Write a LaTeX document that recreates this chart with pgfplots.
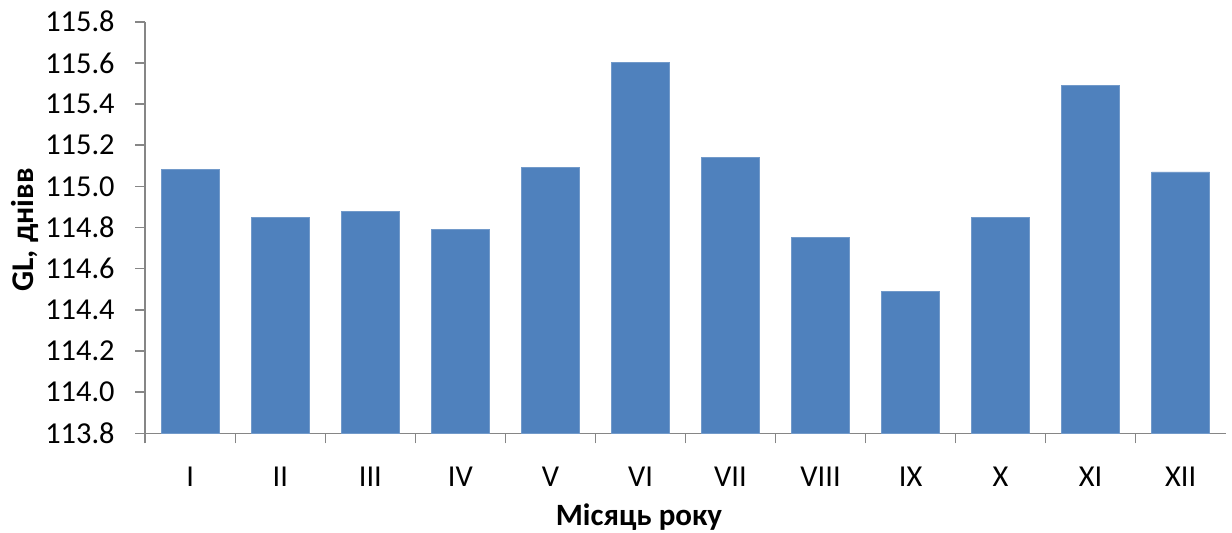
\documentclass[border=0pt]{standalone}
\usepackage{pgfplots}
\pgfplotsset{compat=1.18}
\usepackage{fontspec}
\setmainfont{Carlito}
\definecolor{barblue}{HTML}{4F81BD}
\definecolor{axgray}{HTML}{868686}

\begin{document}
\begin{tikzpicture}
\begin{axis}[
  at={(0,0)}, anchor=south west,
  scale only axis,
  width=540.2pt, height=205.8pt,
  xmin=-0.5, xmax=11.5,
  ymin=113.8, ymax=115.8,
  axis x line*=bottom, axis y line*=left,
  axis line style={draw=axgray, line width=0.8pt, -},
  tick align=outside,
  major tick length=5pt, minor tick length=5pt,
  tick style={draw=axgray, line width=0.8pt},
  major x tick style={draw=none},
  xtick={0,...,11},
  xticklabels={I,II,III,IV,V,VI,VII,VIII,IX,X,XI,XII},
  minor xtick={-0.5,0.5,1.5,2.5,3.5,4.5,5.5,6.5,7.5,8.5,9.5,10.5},
  ytick={113.8,114.0,114.2,114.4,114.6,114.8,115.0,115.2,115.4,115.6,115.8},
  yticklabel style={/pgf/number format/fixed, /pgf/number format/fixed zerofill,
    /pgf/number format/precision=1, /pgf/number format/assume math mode=true,
    inner sep=0pt, anchor=east, xshift=-10.15pt},
  xticklabel style={inner sep=0pt, anchor=north, yshift=-11.6pt},
  every tick label/.append style={font=\fontsize{15.2pt}{18pt}\selectfont, text=black},
  ybar, bar width=29pt,
]
\addplot[fill=barblue, draw=barblue!80!white, line width=0.4pt] coordinates {
  (0,115.08) (1,114.85) (2,114.88) (3,114.79) (4,115.09) (5,115.60)
  (6,115.14) (7,114.75) (8,114.49) (9,114.85) (10,115.49) (11,115.07)
};
\end{axis}
\node[rotate=90, anchor=base, inner sep=0pt, font=\fontsize{15.8pt}{18pt}\selectfont\bfseries]
  at (-56pt,101.65pt) {GL, днівв};
\node[anchor=base, inner sep=0pt, font=\fontsize{15.5pt}{18pt}\selectfont\bfseries]
  at (246.85pt,-45.85pt) {Місяць року};
\pgfresetboundingbox
\path (-72.65pt,-49.35pt) rectangle (543.35pt,216.65pt);
\end{tikzpicture}
\end{document}
